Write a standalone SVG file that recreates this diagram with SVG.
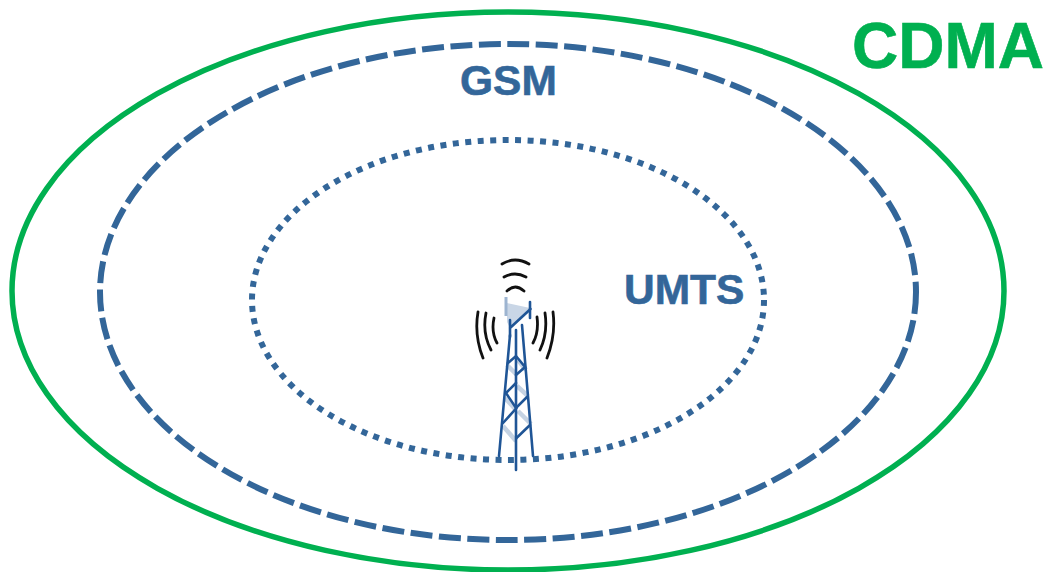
<svg xmlns="http://www.w3.org/2000/svg" width="1043" height="572" viewBox="0 0 1043 572">
<style>
.e{fill:none}
.t{font-family:"Liberation Sans",Arial,sans-serif;font-weight:bold;stroke-width:.6}
.b{fill:#336699;stroke:#336699}
.w{fill:none;stroke:#111;stroke-width:2.8;stroke-linecap:round}
.d{fill:none;stroke:#1f5596;stroke-width:2.6;stroke-linecap:round}
.l{fill:none;stroke:#c5d3e3;stroke-width:4.500}
</style>
<rect width="1043" height="572" fill="#fff"/>
<g id="cdma"><ellipse class="e" cx="508" cy="291" rx="496" ry="279" stroke="#00b050" stroke-width="5.5"/><text class="t" x="852" y="68" font-size="64" fill="#00b050" stroke="#00b050">CDMA</text></g>
<g id="gsm"><ellipse class="e" cx="508" cy="292" rx="408" ry="248" stroke="#336699" stroke-width="6" stroke-dasharray="22 6.5"/><text class="t b" x="460" y="95" font-size="42.5">GSM</text></g>
<g id="umts"><ellipse class="e" cx="508" cy="300" rx="256" ry="160" stroke="#336699" stroke-width="6" stroke-dasharray="6 6.5"/><text class="t b" x="624" y="304" font-size="42.5">UMTS</text></g>
<g id="tower">
<path d="M507 303L530 308L510 328L507 322Z" fill="#c9d6e6"/>
<path d="M506 297V316" fill="none" stroke="#9db4d0" stroke-width="3"/>
<path class="l" d="M507 365L516 374M526 370L518 360M505 398L516 410M528 396L517 386M503 426L516 441M531 424L518 411"/>
<path class="d" d="M530 302V318" stroke-width="3"/>
<path class="d" d="M510 328L530.500 309M510 320V337" stroke-width="4"/>
<path class="d" d="M510 335L499 456M522 325L533 456M516 330V470"/>
<path class="d" d="M508 363L516 356L525 367L516 375M506 393L516 383M527 397L516 408L506 393M503 423L516.500 408M530 425L516.500 438"/>
<path class="w" d="M502 264Q515 256 529 264M504 277Q515 271 526 277M507 291Q515 283 524 291"/>
<path class="w" d="M478 312Q474 335 483 358M486 313Q482 333 491 350M494 318Q491 332 497 343M553 312Q556 335 547 358M545 313Q548 333 540 350M537 317Q539 332 533 343"/>
</g>
</svg>
